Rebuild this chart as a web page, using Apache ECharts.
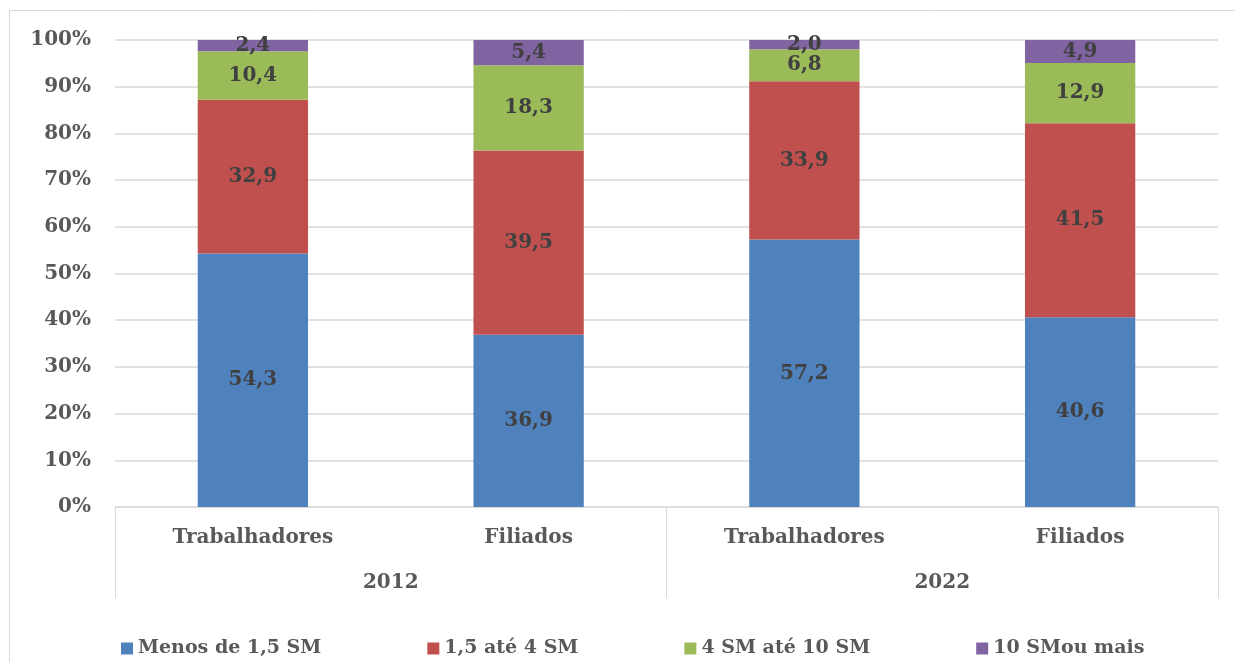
<!DOCTYPE html>
<html>
<head>
<meta charset="utf-8">
<script src="https://cdn.jsdelivr.net/npm/echarts@6/dist/echarts.min.js"></script>
<style>
  html, body { margin: 0; padding: 0; background: #fff; }
  #main { width: 1235px; height: 662px; }
</style>
</head>
<body>
<div id="main"></div>
<script>
// categorias e grupos (anos)
const categories = ["Trabalhadores", "Filiados", "Trabalhadores", "Filiados"];
const years = ["2012", "2022"];
const seriesNames = ["Menos de 1,5 SM", "1,5 até 4 SM", "4 SM até 10 SM", "10 SMou mais"];

// valores em % por faixa salarial
const menos15 = [54.3, 36.9, 57.2, 40.6];
const de15a4 = [32.9, 39.5, 33.9, 41.5];
const de4a10 = [10.4, 18.3, 6.8, 12.9];
const mais10 = [2.4, 5.4, 2.0, 4.9];

const colors = ["#4F81BD", "#C0504D", "#9BBB59", "#8064A2"];
const FONT = "DejaVu Serif";

const chart = echarts.init(document.getElementById("main"));

// empilhamento 100%: normaliza cada coluna pela soma
const raw = [menos15, de15a4, de4a10, mais10];
const totals = categories.map((c, i) => raw.reduce((s, arr) => s + arr[i], 0));

const series = raw.map((arr, k) => ({
  name: seriesNames[k],
  type: "bar",
  stack: "total",
  barWidth: "40%",
  itemStyle: { color: colors[k] },
  data: arr.map((v, i) => ({ value: (v / totals[i]) * 100, raw: v })),
  label: {
    show: true,
    position: "inside",
    fontFamily: FONT,
    fontWeight: "bold",
    fontSize: 20,
    color: "#404040",
    formatter: (p) => p.data.raw.toFixed(1).replace(".", ","),
  },
}));

const option = {
  animation: false,
  color: colors,
  graphic: [
    {
      type: "rect",
      shape: { x: 9.5, y: 10.5, width: 1400, height: 800 },
      style: { fill: "none", stroke: "#D9D9D9", lineWidth: 1 },
      silent: true,
    },
  ],
  grid: { left: 115, right: 17, top: 40, bottom: 155 },
  legend: {
    left: 116,
    top: 634,
    icon: "rect",
    itemWidth: 12,
    itemHeight: 12,
    itemGap: 106,
    textStyle: { fontFamily: FONT, fontWeight: "bold", fontSize: 19, color: "#595959" },
    data: seriesNames,
  },
  xAxis: [
    {
      type: "category",
      data: categories,
      axisLine: { show: true, lineStyle: { color: "#D9D9D9", width: 1 } },
      axisTick: { show: false },
      axisLabel: {
        margin: 21,
        interval: 0,
        fontFamily: FONT,
        fontWeight: "bold",
        fontSize: 20,
        color: "#595959",
      },
    },
    {
      type: "category",
      data: years,
      position: "bottom",
      axisLine: { show: false },
      axisTick: { show: true, length: 91, interval: 0, lineStyle: { color: "#D9D9D9", width: 1 } },
      axisLabel: {
        margin: 66,
        interval: 0,
        fontFamily: FONT,
        fontWeight: "bold",
        fontSize: 20,
        color: "#595959",
      },
    },
  ],
  yAxis: {
    type: "value",
    min: 0,
    max: 100,
    interval: 10,
    axisLine: { show: false },
    axisTick: { show: false },
    splitLine: { lineStyle: { color: "#D9D9D9", width: 1.5 } },
    axisLabel: {
      formatter: "{value}%",
      margin: 24,
      fontFamily: FONT,
      fontWeight: "bold",
      fontSize: 20,
      color: "#595959",
    },
  },
  series: series,
};

chart.setOption(option);
</script>
</body>
</html>
